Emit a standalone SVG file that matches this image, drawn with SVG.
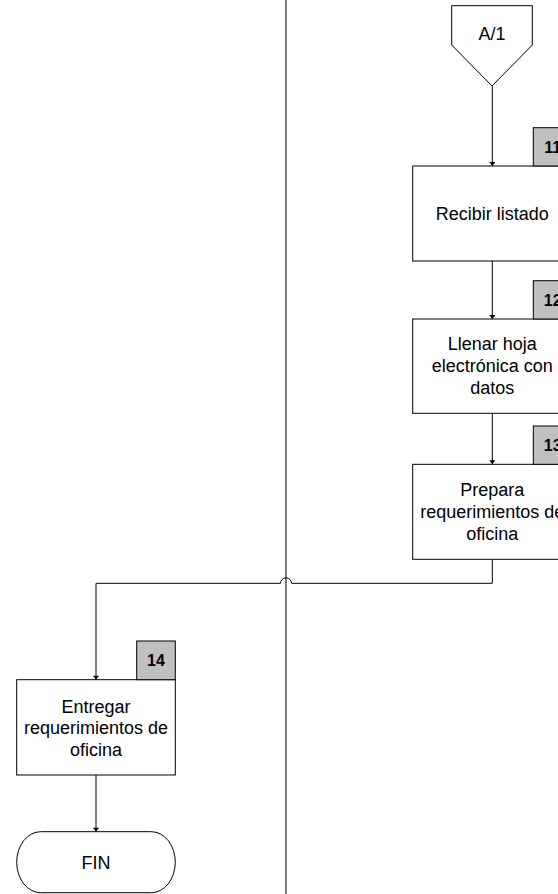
<svg xmlns="http://www.w3.org/2000/svg" width="558" height="894" viewBox="0 0 558 894">
  <style>
    .shape { fill: #ffffff; stroke: #000000; stroke-width: 1; }
    .badge { fill: #c0c0c0; stroke: #000000; stroke-width: 1; }
    .line { fill: none; stroke: #000000; stroke-width: 1; }
    .lbl { font-family: "Liberation Sans", Arial, sans-serif; font-size: 18px; fill: #000000; text-anchor: middle; }
    .num { font-family: "Liberation Sans", Arial, sans-serif; font-size: 16px; font-weight: bold; fill: #000000; text-anchor: middle; }
  </style>
  <defs>
    <marker id="arrow" markerWidth="9" markerHeight="6" refX="6" refY="4.5" orient="auto" markerUnits="userSpaceOnUse" viewBox="0 0 6 9">
      <path d="M0,0 L6,4.5 L0,9 Z" fill="#000000"/>
    </marker>
  </defs>
  <rect width="558" height="894" fill="#ffffff"/>

  <!-- lane divider -->
  <line class="line" x1="286" y1="0" x2="286" y2="894"/>

  <g id="connectors">
    <path class="line" d="M492.3,86 V166" marker-end="url(#arrow)"/>
    <path class="line" d="M492.3,261 V319" marker-end="url(#arrow)"/>
    <path class="line" d="M492.3,413.3 V464.3" marker-end="url(#arrow)"/>
    <path class="line" d="M492.3,559.3 V583.3 H291.5 A5.5,5.5 0 0 0 280.5,583.3 H96 V679.7" marker-end="url(#arrow)"/>
    <path class="line" d="M96,775 V831.7" marker-end="url(#arrow)"/>
  </g>

  <g id="node-a1">
    <polygon class="shape" points="451.7,5.7 532.3,5.7 532.3,45 492,86 451.7,45"/>
    <text class="lbl" x="492" y="40">A/1</text>
  </g>

  <g id="node-11">
    <rect class="shape" x="412.7" y="166" width="159.3" height="95"/>
    <rect class="badge" x="533.3" y="127.7" width="38.7" height="38.3"/>
    <text class="num" x="552.7" y="152.5">11</text>
    <text class="lbl" x="492.3" y="220">Recibir listado</text>
  </g>

  <g id="node-12">
    <rect class="shape" x="412.7" y="319" width="159.3" height="94.3"/>
    <rect class="badge" x="533.3" y="280.7" width="38.7" height="38.3"/>
    <text class="num" x="552.7" y="305.5">12</text>
    <text class="lbl" x="492.3" y="350">Llenar hoja</text>
    <text class="lbl" x="492.3" y="372">electrónica con</text>
    <text class="lbl" x="492.3" y="394">datos</text>
  </g>

  <g id="node-13">
    <rect class="shape" x="412.7" y="464.3" width="159.3" height="95"/>
    <rect class="badge" x="533.3" y="426" width="38.7" height="38.3"/>
    <text class="num" x="552.7" y="450.8">13</text>
    <text class="lbl" x="492.3" y="496">Prepara</text>
    <text class="lbl" x="492.3" y="518">requerimientos de</text>
    <text class="lbl" x="492.3" y="540">oficina</text>
  </g>

  <g id="node-14">
    <rect class="shape" x="16.7" y="679.7" width="158.6" height="95.3"/>
    <rect class="badge" x="136.7" y="641" width="38.6" height="38.7"/>
    <text class="num" x="156" y="665.8">14</text>
    <text class="lbl" x="96" y="712.5">Entregar</text>
    <text class="lbl" x="96" y="734">requerimientos de</text>
    <text class="lbl" x="96" y="755.5">oficina</text>
  </g>

  <g id="node-fin">
    <rect class="shape" x="16.7" y="831.7" width="158.6" height="61" rx="24" ry="30.5"/>
    <text class="lbl" x="96" y="868.5">FIN</text>
  </g>
</svg>
